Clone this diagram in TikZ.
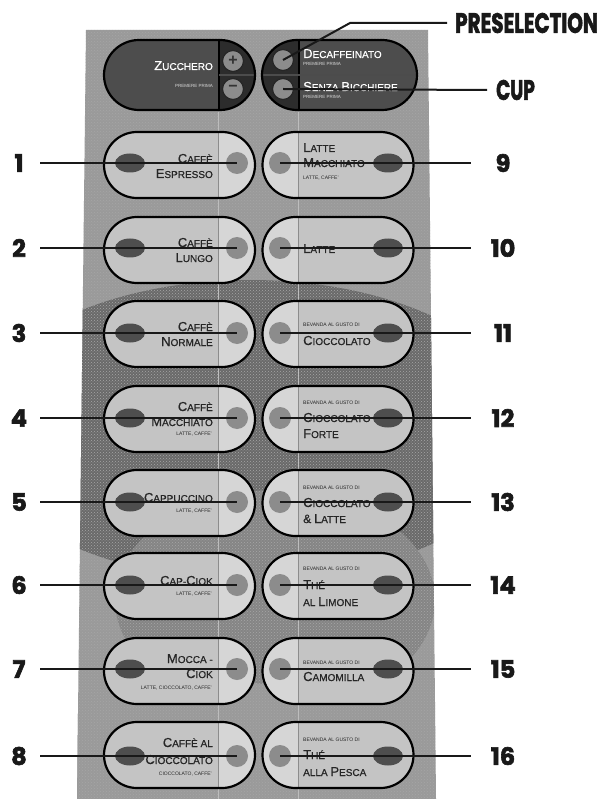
\documentclass[tikz,border=0pt]{standalone}
\usepackage{fontspec}
\setmainfont{Liberation Sans}
\newfontfamily\lblfont{Poppins}[BoldFeatures={FakeBold=2.5}]
\newfontfamily\btnfont{Liberation Sans}[FakeBold=0.6]
\usetikzlibrary{shapes.misc,shapes.geometric,patterns}
\definecolor{panelbase}{HTML}{9A9A9A}
\definecolor{paneldark}{HTML}{6A6A6A}
\definecolor{panelmid}{HTML}{858585}
\definecolor{pillA}{HTML}{C4C4C4}
\definecolor{pillB}{HTML}{D6D6D6}
\definecolor{lampL}{HTML}{8C8C8C}
\definecolor{lampD}{HTML}{4E4E4E}
\definecolor{txt}{HTML}{262626}
\definecolor{topdark}{HTML}{4D4D4D}
\definecolor{topdarker}{HTML}{2C2C2C}
\definecolor{seam}{HTML}{BDBDBD}
\newcommand\sct[2]{{\fontsize{13}{13}\selectfont #1}{\fontsize{10}{10}\selectfont #2}}
\begin{document}
\begin{tikzpicture}[x=1pt,y=-1pt,
  pillL/.style={rounded rectangle, draw=black, line width=2.2pt, minimum width=151pt, minimum height=66pt, inner sep=0pt,
    path picture={\fill[pillA] (path picture bounding box.south west) rectangle ([xshift=38.5pt]path picture bounding box.north);
      \fill[pillB] ([xshift=38.5pt]path picture bounding box.south) rectangle (path picture bounding box.north east);
      \draw[lampL, line width=1pt] ([xshift=38.5pt]path picture bounding box.south) -- ([xshift=38.5pt]path picture bounding box.north);}},
  pillR/.style={rounded rectangle, draw=black, line width=2.2pt, minimum width=151pt, minimum height=66pt, inner sep=0pt,
    path picture={\fill[pillB] (path picture bounding box.south west) rectangle ([xshift=-40pt]path picture bounding box.north);
      \fill[pillA] ([xshift=-40pt]path picture bounding box.south) rectangle (path picture bounding box.north east);
      \draw[lampL, line width=1pt] ([xshift=-40pt]path picture bounding box.south) -- ([xshift=-40pt]path picture bounding box.north);}},
  lampc/.style={circle, fill=lampL, minimum size=22pt, inner sep=0pt},
  lampo/.style={ellipse, fill=lampD, minimum width=30pt, minimum height=19pt, inner sep=0pt},
  numL/.style={font=\lblfont\bfseries\fontsize{24}{24}\selectfont, text=black!90, minimum width=42pt, inner sep=0pt},
  numR/.style={font=\lblfont\bfseries\fontsize{24}{24}\selectfont, text=black!90, minimum width=64pt, inner sep=0pt},
  leader/.style={draw=black!90, line width=2pt},
  bt/.style={inner sep=0pt, text=txt, font=\btnfont},
  tinyt/.style={inner sep=0pt, text=txt, font=\fontsize{5}{5}\selectfont},
  wt/.style={inner sep=0pt, text=white, font=\btnfont},
  wtiny/.style={inner sep=0pt, text=white!85!black, font=\fontsize{4.5}{5}\selectfont},
  topbtn/.style={circle, fill=lampL, draw=black!85, line width=1.2pt, minimum size=21pt, inner sep=0pt, text=black!80, font=\bfseries\fontsize{16}{16}\selectfont}
]
\useasboundingbox (0,0) rectangle (600,799);
% panel
\fill[panelbase] (86,30) -- (428,30) -- (436,799) -- (77,799) -- cycle;
\begin{scope}
  \clip (86,30) -- (428,30) -- (436,799) -- (77,799) -- cycle;
  \fill[paneldark] (250,430) ellipse [x radius=280, y radius=150];
  \fill[panelmid] (275,600) ellipse [x radius=160, y radius=110];
  \fill[panelbase] (200,760) ellipse [x radius=200, y radius=80];
  \fill[pattern=crosshatch dots, pattern color=black!35] (60,20) rectangle (460,799);
\end{scope}
\draw[seam, line width=0.8pt] (218,112) -- (218,799);
\draw[seam, line width=0.8pt] (298,112) -- (298,799);

% top pills
\node[rounded rectangle, draw=black, line width=2.2pt, minimum width=151pt, minimum height=70pt, inner sep=0pt,
  path picture={\fill[topdark] (path picture bounding box.south west) rectangle (path picture bounding box.north east);
    \fill[topdarker] ([xshift=39.5pt]path picture bounding box.south) rectangle (path picture bounding box.north east);
    \draw[black, line width=1.5pt] ([xshift=39.5pt]path picture bounding box.south) -- ([xshift=39.5pt]path picture bounding box.north);
    \draw[black!70, line width=1.2pt] ([xshift=39.5pt]path picture bounding box.center) -- (path picture bounding box.east);}] (zuc) at (179.5,75) {};
\node[rounded rectangle, draw=black, line width=2.2pt, minimum width=155pt, minimum height=70pt, inner sep=0pt,
  path picture={\fill[topdark] (path picture bounding box.south west) rectangle (path picture bounding box.north east);
    \fill[topdarker] (path picture bounding box.south west) rectangle ([xshift=-40.5pt]path picture bounding box.north);
    \draw[black, line width=1.5pt] ([xshift=-40.5pt]path picture bounding box.south) -- ([xshift=-40.5pt]path picture bounding box.north);
    \draw[black!70, line width=1.2pt] (path picture bounding box.west) -- (path picture bounding box.east);}] (dec) at (339.5,75) {};
\node[topbtn] (plus) at (233,61) {+};
\node[topbtn] (minus) at (233,89) {\raisebox{1pt}{−}};
\node[topbtn] (dc1) at (283,60) {};
\node[topbtn] (dc2) at (283,89) {};
\node[wt, anchor=base east] (zt) at (213,70) {\sct{Z}{UCCHERO}};
\node[wtiny, anchor=base east] (zt2) at (213,88) {PREMERE PRIMA};
\node[wt, anchor=base west] (dt) at (303,58) {\sct{D}{ECAFFEINATO}};
\node[wtiny, anchor=base west] (dt2) at (303,66) {PREMERE PRIMA};
\node[wt, anchor=base west] (st) at (303,91) {\sct{S}{ENZA} \sct{B}{ICCHIERE}};
\node[wtiny, anchor=base west] (st2) at (303,99) {PREMERE PRIMA};

% buttons
\foreach \c/\ly [count=\i] in {165/163,250/248,334/333,419/418,503/502,586/585,671/669,755/756}{
  \pgfmathtruncatemacro\j{\i+8}
  \node[pillL] (L\i) at (179.5,\c) {};
  \node[lampo] (LO\i) at (130,\ly) {};
  \node[lampc] (LC\i) at (237,\ly) {};
  \node[pillR] (R\i) at (338,\c) {};
  \node[lampc] (RC\i) at (280,\ly) {};
  \node[lampo] (RO\i) at (388,\ly) {};
  \node[numL] (N\i) at (19,\ly) {\i};
  \node[numR] (N\j) at (503,\ly) {\j};
}

% left texts
\node[bt, anchor=base east] (a1) at (213,163) {\sct{C}{AFFÈ}};
\node[bt, anchor=base east] (a2) at (213,178) {\sct{E}{SPRESSO}};
\node[bt, anchor=base east] (b1) at (213,247) {\sct{C}{AFFÈ}};
\node[bt, anchor=base east] (b2) at (213,262) {\sct{L}{UNGO}};
\node[bt, anchor=base east] (c1) at (213,331) {\sct{C}{AFFÈ}};
\node[bt, anchor=base east] (c2) at (213,346) {\sct{N}{ORMALE}};
\node[bt, anchor=base east] (d1) at (213,411) {\sct{C}{AFFÈ}};
\node[bt, anchor=base east] (d2) at (213,426) {\sct{M}{ACCHIATO}};
\node[tinyt, anchor=base east] (d3) at (212,435) {LATTE, CAFFE'};
\node[bt, anchor=base east] (e1) at (213,502) {\sct{C}{APPUCCINO}};
\node[tinyt, anchor=base east] (e2) at (212,512) {LATTE, CAFFE'};
\node[bt, anchor=base east] (f1) at (213,585) {\sct{C}{AP}-\sct{C}{IOK}};
\node[tinyt, anchor=base east] (f2) at (212,595) {LATTE, CAFFE'};
\node[bt, anchor=base east] (g1) at (213,663) {\sct{M}{OCCA} -};
\node[bt, anchor=base east] (g2) at (213,678) {\sct{C}{IOK}};
\node[tinyt, anchor=base east] (g3) at (212,689) {LATTE, CIOCCOLATO, CAFFE'};
\node[bt, anchor=base east] (h1) at (213,747) {\sct{C}{AFFÈ} {\fontsize{10}{10}\selectfont AL}};
\node[bt, anchor=base east] (h2) at (213,764) {\sct{C}{IOCCOLATO}};
\node[tinyt, anchor=base east] (h3) at (212,775) {CIOCCOLATO, CAFFE'};

% right texts
\node[bt, anchor=base west] (i1) at (303,152) {\sct{L}{ATTE}};
\node[bt, anchor=base west] (i2) at (303,167) {\sct{M}{ACCHIATO}};
\node[tinyt, anchor=base west] (i3) at (303,180) {LATTE, CAFFE'};
\node[bt, anchor=base west] (j1) at (303,253) {\sct{L}{ATTE}};
\node[tinyt, anchor=base west] (k1) at (303,326) {BEVANDA AL GUSTO DI};
\node[bt, anchor=base west] (k2) at (303,345) {\sct{C}{IOCCOLATO}};
\node[tinyt, anchor=base west] (l1) at (303,404) {BEVANDA AL GUSTO DI};
\node[bt, anchor=base west] (l2) at (303,422) {\sct{C}{IOCCOLATO}};
\node[bt, anchor=base west] (l3) at (303,438) {\sct{F}{ORTE}};
\node[tinyt, anchor=base west] (m1) at (303,489) {BEVANDA AL GUSTO DI};
\node[bt, anchor=base west] (m2) at (303,507) {\sct{C}{IOCCOLATO}};
\node[bt, anchor=base west] (m3) at (303,523) {{\fontsize{12}{12}\selectfont\&} \sct{L}{ATTE}};
\node[tinyt, anchor=base west] (o1) at (303,570) {BEVANDA AL GUSTO DI};
\node[bt, anchor=base west] (o2) at (303,589) {\sct{T}{HÉ}};
\node[bt, anchor=base west] (o3) at (303,606) {{\fontsize{10}{10}\selectfont AL} \sct{L}{IMONE}};
\node[tinyt, anchor=base west] (p1) at (303,664) {BEVANDA AL GUSTO DI};
\node[bt, anchor=base west] (p2) at (303,681) {\sct{C}{AMOMILLA}};
\node[tinyt, anchor=base west] (q1) at (303,741) {BEVANDA AL GUSTO DI};
\node[bt, anchor=base west] (q2) at (303,759) {\sct{T}{HÉ}};
\node[bt, anchor=base west] (q3) at (303,776) {{\fontsize{10}{10}\selectfont ALLA} \sct{P}{ESCA}};

% leaders
\foreach \i in {1,...,8}{
  \pgfmathtruncatemacro\j{\i+8}
  \draw[leader] (N\i) -- (LC\i.center);
  \draw[leader] (N\j) -- (RC\i.center);
}
\node[anchor=west, inner xsep=8pt, inner ysep=0pt, text=black!90, font=\lblfont\bfseries\fontsize{28}{28}\selectfont] (pres) at (447,23) {\scalebox{0.71}[1]{PRESELECTION}};
\node[anchor=west, inner xsep=9pt, inner ysep=0pt, text=black!90, font=\lblfont\bfseries\fontsize{28}{28}\selectfont] (cup) at (487,90) {\scalebox{0.66}[1]{CUP}};
\coordinate (k) at (350,23);
\draw[leader] (pres.west) -- (k) -- (dc1.center);
\draw[leader] (cup.west) -- (dc2.center);
\end{tikzpicture}
\end{document}
